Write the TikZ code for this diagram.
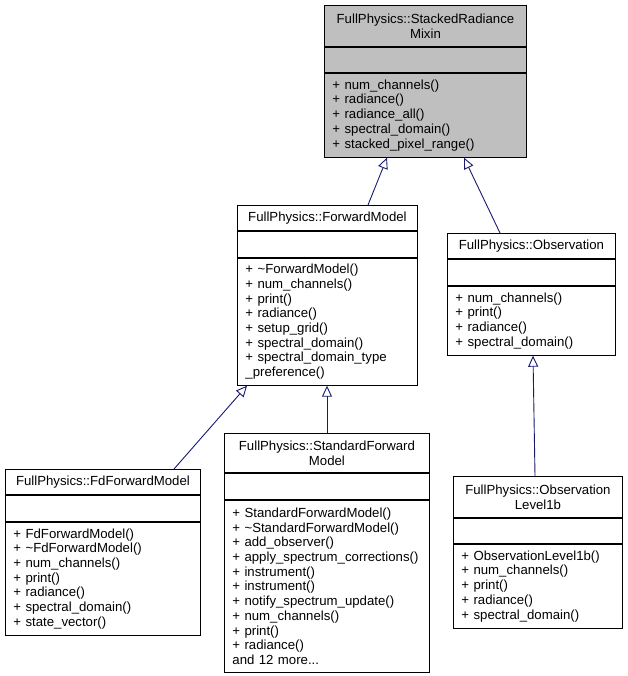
\documentclass[tikz,border=0pt]{standalone}
\usepackage{fontspec}
\setmainfont{Liberation Sans}
\usetikzlibrary{arrows.meta,positioning}
\definecolor{edgeblue}{HTML}{191970}
\definecolor{basegrey}{HTML}{BFBFBF}

\begin{document}
\begin{tikzpicture}[x=1pt,y=-1pt,
    font=\fontsize{13.2}{14.7}\selectfont,
    part/.style={draw,line width=0.9pt,inner xsep=8pt,inner ysep=0pt,text width=#1},
    title/.style={part=#1,align=center,anchor=north west},
    members/.style={part=#1,align=left},
    inherit/.style={draw=edgeblue,line width=0.9pt,-{Triangle[open,length=11pt,width=10pt]}}]
      \useasboundingbox (0,0) rectangle (627,676);
      % base class
      \node[title=186pt,fill=basegrey,minimum height=41pt] (mixin) at (324,5) {FullPhysics::StackedRadiance\\Mixin};
      \node[part=186pt,fill=basegrey,minimum height=25pt,below=0pt of mixin] (mixin-a) {};
      \node[members=186pt,fill=basegrey,minimum height=84pt,below=0pt of mixin-a] (mixin-m) {+ num\_channels()\\+ radiance()\\+ radiance\_all()\\+ spectral\_domain()\\+ stacked\_pixel\_range()};
      %
      \node[title=164pt,minimum height=25pt] (fm) at (237,205) {FullPhysics::ForwardModel};
      \node[part=164pt,minimum height=26pt,below=0pt of fm] (fm-a) {};
      \node[members=164pt,minimum height=127pt,below=0pt of fm-a] (fm-m) {+ \textasciitilde ForwardModel()\\+ num\_channels()\\+ print()\\+ radiance()\\+ setup\_grid()\\+ spectral\_domain()\\+ spectral\_domain\_type\\\_preference()};
      %
      \node[title=152pt,minimum height=25pt] (obs) at (447,233) {FullPhysics::Observation};
      \node[part=152pt,minimum height=26pt,below=0pt of obs] (obs-a) {};
      \node[members=152pt,minimum height=69pt,below=0pt of obs-a] (obs-m) {+ num\_channels()\\+ print()\\+ radiance()\\+ spectral\_domain()};
      %
      \node[title=179pt,minimum height=25pt] (fd) at (5,469) {FullPhysics::FdForwardModel};
      \node[part=179pt,minimum height=26pt,below=0pt of fd] (fd-a) {};
      \node[members=179pt,minimum height=113pt,below=0pt of fd-a] (fd-m) {+ FdForwardModel()\\+ \textasciitilde FdForwardModel()\\+ num\_channels()\\+ print()\\+ radiance()\\+ spectral\_domain()\\+ state\_vector()};
      %
      \node[title=189pt,minimum height=39pt] (sfm) at (224,433) {FullPhysics::StandardForward\\Model};
      \node[part=189pt,minimum height=26pt,below=0pt of sfm] (sfm-a) {};
      \node[members=189pt,minimum height=172pt,below=0pt of sfm-a] (sfm-m) {+ StandardForwardModel()\\+ \textasciitilde StandardForwardModel()\\+ add\_observer()\\+ apply\_spectrum\_corrections()\\+ instrument()\\+ instrument()\\+ notify\_spectrum\_update()\\+ num\_channels()\\+ print()\\+ radiance()\\and 12 more...};
      %
      \node[title=153pt,minimum height=41pt] (l1b) at (453,476) {FullPhysics::Observation\\Level1b};
      \node[part=153pt,minimum height=25pt,below=0pt of l1b] (l1b-a) {};
      \node[members=153pt,minimum height=84pt,below=0pt of l1b-a] (l1b-m) {+ ObservationLevel1b()\\+ num\_channels()\\+ print()\\+ radiance()\\+ spectral\_domain()};
      % inheritance
      \draw[inherit] ([xshift=131pt]fm.north west) -- ([xshift=63pt]mixin-m.south west);
      \draw[inherit] ([xshift=53pt]obs.north west) -- ([xshift=140pt]mixin-m.south west);
      \draw[inherit] ([xshift=169pt]fd.north west) -- ([xshift=10pt]fm-m.south west);
      \draw[inherit] ([xshift=103pt]sfm.north west) -- ([xshift=90pt]fm-m.south west);
      \draw[inherit] ([xshift=82pt]l1b.north west) -- ([xshift=86pt]obs-m.south west);
    \end{tikzpicture}
\end{document}
